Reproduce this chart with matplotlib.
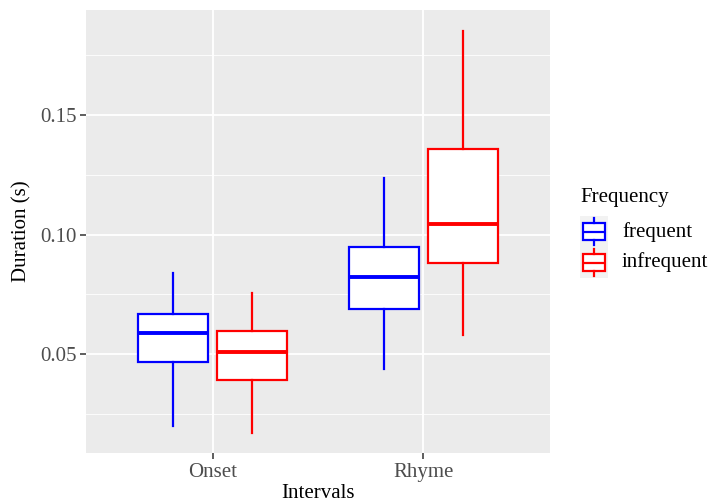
import numpy as np
import matplotlib
matplotlib.use("Agg")
import matplotlib.pyplot as plt

# dados
intervalos = ["Onset", "Rhyme"]
grupos = ["frequent", "infrequent"]
cores = ["#0000FF", "#FF0000"]
# (whisker baixo, Q1, mediana, Q3, whisker alto)
frequent = [[0.0200, 0.0469, 0.0588, 0.0668, 0.0838],
            [0.0439, 0.0688, 0.0822, 0.0949, 0.1238]]
infrequent = [[0.0170, 0.0393, 0.0511, 0.0597, 0.0757],
              [0.0581, 0.0880, 0.1044, 0.1358, 0.1851]]
yticks = [0.05, 0.10, 0.15]

plt.rcParams['font.family'] = ['Liberation Serif', 'DejaVu Serif']

fig = plt.figure(figsize=(7.18, 5.04), dpi=100)
ax = fig.add_axes([86/718, 51/504, 464/718, 443/504])
ax.set_facecolor("#EBEBEB")

dodge = 0.1875
larg = 0.335
for g, (serie, cor) in enumerate(zip([frequent, infrequent], cores)):
    stats = []
    for v in serie:
        stats.append(dict(whislo=v[0], q1=v[1], med=v[2], q3=v[3], whishi=v[4]))
    pos = [i + 1 + (dodge if g else -dodge) for i in range(len(serie))]
    ax.bxp(stats, positions=pos, widths=larg, showfliers=False, showcaps=False,
           patch_artist=True,
           boxprops=dict(facecolor="white", edgecolor=cor, linewidth=1.6),
           whiskerprops=dict(color=cor, linewidth=1.6),
           medianprops=dict(color=cor, linewidth=2.8),
           manage_ticks=False, zorder=3)

ax.set_xlim(0.4, 2.6)
ax.set_ylim(0.0088, 0.1938)
ax.set_xticks([1, 2])
ax.set_xticklabels(intervalos)
ax.set_yticks(yticks)
ax.set_yticklabels(["%.2f" % t for t in yticks])
ax.set_yticks([0.025, 0.075, 0.125, 0.175], minor=True)
ax.grid(True, which="major", color="white", linewidth=1.3, zorder=0)
ax.grid(True, which="minor", axis="y", color="white", linewidth=0.6, zorder=0)
ax.set_axisbelow(True)
ax.tick_params(axis="both", which="major", length=4, width=1.1, color="#333333",
               labelsize=15, labelcolor="#4D4D4D", pad=3)
ax.tick_params(axis="y", which="minor", length=0)
for s in ax.spines.values():
    s.set_visible(False)
ax.set_xlabel("Intervals", fontsize=15, labelpad=2)
ax.set_ylabel("Duration (s)", fontsize=15, labelpad=6)

# legenda feita a mao
leg = fig.add_axes([580/718, (504-278)/504, 28/718, 62/504])
leg.set_facecolor("#F2F2F2")
leg.set_xlim(0, 1)
leg.set_ylim(0, 2)
for k, cor in enumerate(cores):
    st = [dict(whislo=1.5 - k - 0.45, q1=1.5 - k - 0.28, med=1.5 - k,
               q3=1.5 - k + 0.28, whishi=1.5 - k + 0.45)]
    leg.bxp(st, positions=[0.5], widths=0.8, showfliers=False, showcaps=False,
            patch_artist=True,
            boxprops=dict(facecolor="white", edgecolor=cor, linewidth=1.6),
            whiskerprops=dict(color=cor, linewidth=1.6),
            medianprops=dict(color=cor, linewidth=1.6), manage_ticks=False)
leg.set_xticks([])
leg.set_yticks([])
for s in leg.spines.values():
    s.set_visible(False)

fig.text(580/718, 1 - 198/504, "Frequency", fontsize=15, va="center", ha="left")
fig.text(622/718, 1 - 232/504, grupos[0], fontsize=15, va="center", ha="left")
fig.text(622/718, 1 - 262/504, grupos[1], fontsize=15, va="center", ha="left")

fig.savefig("out.png", dpi=100)
